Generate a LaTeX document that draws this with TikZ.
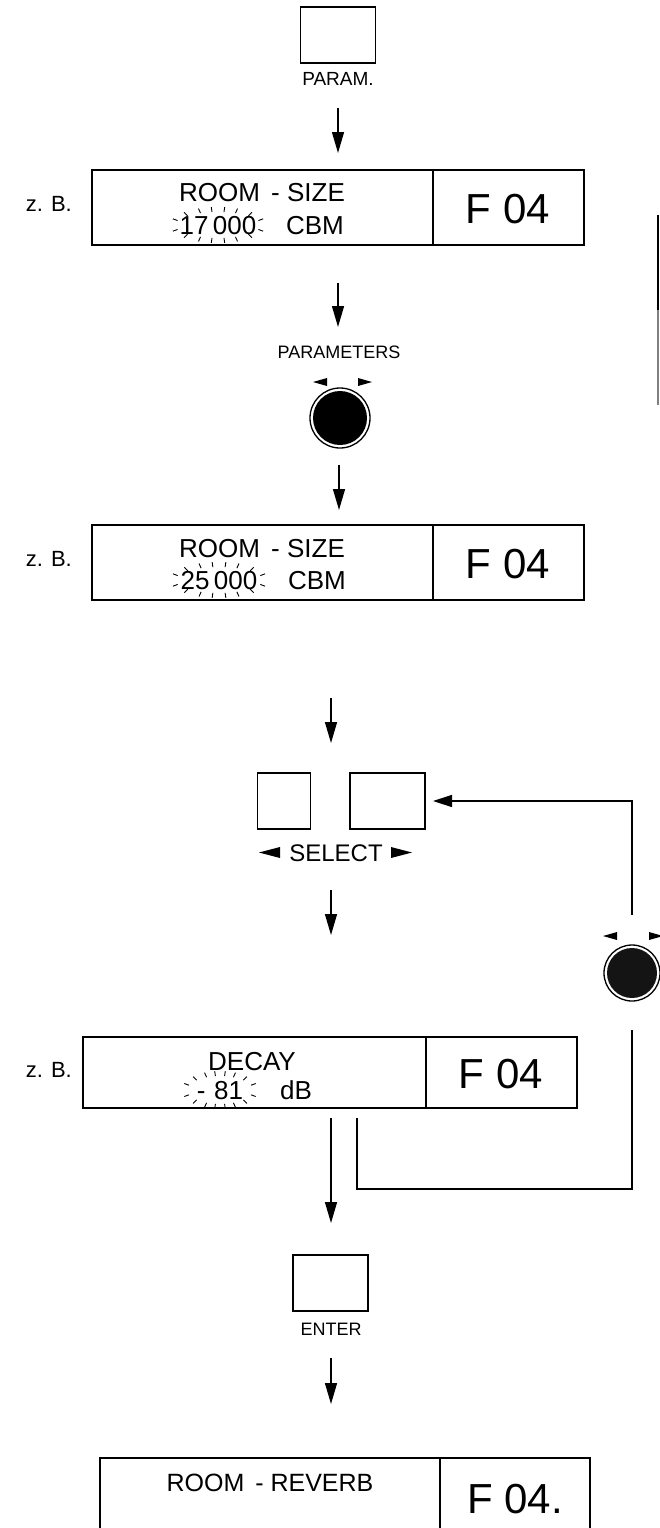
\documentclass[tikz,border=0pt]{standalone}
\usepackage{fontspec}
\setmainfont{Liberation Sans}
\usetikzlibrary{arrows.meta}
\newcommand\sprk[5]{%
  \foreach \t in {20,45,66,82,98,114,135,160,200,225,246,262,278,294,315,340}
    \draw[tick] ({#1+#3*cos(\t)},{#2-#4*sin(\t)}) -- ++({#5*cos(\t)},{-#5*sin(\t)});}
\begin{document}
\begin{tikzpicture}[x=1pt,y=-1pt,
  btn/.style={draw, line width=1.4pt, inner sep=0, minimum width=75pt, minimum height=56pt},
  dbox/.style={draw, line width=1.4pt, inner sep=0},
  arr/.style={line width=1.4pt, -{Triangle[length=21pt,width=12pt]}},
  lbl/.style={font=\fontsize{19}{22}\selectfont, anchor=base, inner sep=0},
  zb/.style={font=\fontsize{22}{26}\selectfont, anchor=base east, inner sep=0},
  txt/.style={font=\fontsize{26}{30}\selectfont, anchor=base, inner sep=0},
  fbig/.style={font=\fontsize{42}{48}\selectfont, anchor=base, inner sep=0},
  tick/.style={line width=0.9pt},
  wire/.style={line width=1.4pt},
  knobring/.style={circle, draw, line width=1.3pt, inner sep=0}
]
\useasboundingbox (0,0) rectangle (660,1528);

% PARAM button
\node[btn] (param) at (338,35) {};
\node[lbl] (paraml) at (338,85) {PARAM.};
\coordinate (a1s) at (338,108); \coordinate (a1e) at (338,153);
\draw[arr] (a1s) -- (a1e);

% Display 1
\node[zb] (zb1) at (72,211) {z. B.};
\node[dbox, minimum width=341pt, minimum height=75pt] (d1) at (262.5,207.5) {};
\node[dbox, minimum width=151pt, minimum height=75pt] (d1f) at (508.5,207.5) {};
\node[txt] (d1t) at (262,201) {ROOM\hspace{4pt} - SIZE};
\node[txt] (d1n) at (218,234) {17\,000};
\node[txt] (d1u) at (315,234) {CBM};
\node[fbig] (d1F) at (508,223) {F 04};
\sprk{218}{225}{43}{13}{5}

\coordinate (a2s) at (338,283); \coordinate (a2e) at (338,327);
\draw[arr] (a2s) -- (a2e);
\node[lbl, font=\fontsize{18}{22}\selectfont] (parl) at (339,358) {PARAMETERS};

% Knob 1
\node[knobring, minimum size=60pt] (k1) at (340,418) {};
\fill (k1.center) circle (27);
\fill (327,378) -- (327,386) -- (313,382) -- cycle;
\fill (358,378) -- (358,386) -- (372,382) -- cycle;
\coordinate (a3s) at (339,465); \coordinate (a3e) at (339,510);
\draw[arr] (a3s) -- (a3e);

% Display 2
\node[zb] (zb2) at (72,566) {z. B.};
\node[dbox, minimum width=341pt, minimum height=75pt] (d2) at (262.5,562.5) {};
\node[dbox, minimum width=151pt, minimum height=75pt] (d2f) at (508.5,562.5) {};
\node[txt] (d2t) at (262,557) {ROOM\hspace{4pt} - SIZE};
\node[txt] (d2n) at (219,589) {25\,000};
\node[txt] (d2u) at (317,589) {CBM};
\node[fbig] (d2F) at (508,578) {F 04};
\sprk{219}{580}{44}{13}{5}

\coordinate (a4s) at (331,698); \coordinate (a4e) at (331,743);
\draw[arr] (a4s) -- (a4e);

% SELECT buttons
\node[btn, minimum width=53pt] (selL) at (284,801) {};
\node[btn] (selR) at (387.5,801) {};
\node[txt, font=\fontsize{24}{28}\selectfont] (sell) at (336,861) {SELECT};
\fill (280,847) -- (280,858) -- (259,852.5) -- cycle;
\fill (391,847) -- (391,858) -- (412,852.5) -- cycle;
\coordinate (a5s) at (331,890); \coordinate (a5e) at (331,935);
\draw[arr] (a5s) -- (a5e);

% Knob 2 and feedback loop
\node[knobring, minimum size=56pt] (k2) at (632,973) {};
\fill[black!92] (k2.center) circle (25);
\fill (617,932) -- (617,940) -- (603,936) -- cycle;
\fill (649,932) -- (649,940) -- (663,936) -- cycle;
\coordinate (fb1) at (632,915);
\coordinate (fb3) at (433,801);
\draw[wire, -{Triangle[length=19pt,width=12pt]}] (fb1) |- (fb3);

% Display DECAY
\node[zb] (zb3) at (72,1077) {z. B.};
\node[dbox, minimum width=343pt, minimum height=71pt] (d3) at (254.5,1072.5) {};
\node[dbox, minimum width=151pt, minimum height=71pt] (d3f) at (501.5,1072.5) {};
\node[txt] (d3t) at (252,1070) {DECAY};
\node[txt] (d3n) at (220,1099) {-\,\,81};
\node[txt] (d3u) at (296,1099) {dB};
\node[fbig] (d3F) at (501,1088) {F 04};
\sprk{220}{1090}{33}{14}{5}

\coordinate (fb4) at (357,1118);
\coordinate (fbc) at (632,1189);
\coordinate (fb5) at (632,1030);
\draw[wire] (fb4) |- (fbc) -- (fb5);

\coordinate (a6s) at (331,1118); \coordinate (a6e) at (331,1223);
\draw[arr] (a6s) -- (a6e);

% ENTER
\node[btn] (enter) at (330.5,1283) {};
\node[lbl, font=\fontsize{18}{22}\selectfont] (enterl) at (331,1335) {ENTER};
\coordinate (a7s) at (331,1358); \coordinate (a7e) at (331,1404);
\draw[arr] (a7s) -- (a7e);

% Final display (cut by page edge)
\draw[wire] (100,1530) -- (100,1458) -- (590,1458) -- (590,1530);
\draw[wire] (440,1458) -- (440,1530);
\node[txt, font=\fontsize{25}{30}\selectfont] (d4t) at (270,1491) {ROOM\hspace{4pt} - REVERB};
\node[fbig] (d4F) at (515,1513) {F 04.};

% margin mark
\draw[line width=1.2pt] (658,215) -- (658,310);
\draw[line width=1.2pt, black!50] (658,310) -- (658,405);
\end{tikzpicture}
\end{document}
